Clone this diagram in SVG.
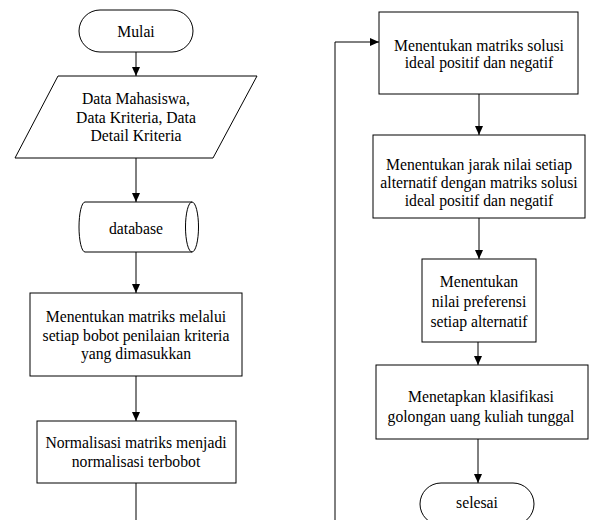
<svg xmlns="http://www.w3.org/2000/svg" width="589" height="520" viewBox="0 0 589 520">
<defs>
<marker id="arr" markerWidth="10" markerHeight="10" refX="9" refY="5" orient="auto" markerUnits="userSpaceOnUse">
<path d="M0,1 L9,5 L0,9 Z" fill="#000"/>
</marker>
<style>
.s{fill:#fff;stroke:#000;stroke-width:1}
.c{fill:none;stroke:#000;stroke-width:1}
.t{font-family:'Liberation Serif',serif;font-size:15.7px;fill:#000;text-anchor:middle}
</style>
</defs>
<rect width="589" height="520" fill="#fff"/>
<g id="connectors">
<line class="c" x1="136" y1="52" x2="136" y2="76" marker-end="url(#arr)"/>
<line class="c" x1="136" y1="158" x2="136" y2="202" marker-end="url(#arr)"/>
<line class="c" x1="136" y1="252" x2="136" y2="293" marker-end="url(#arr)"/>
<line class="c" x1="136" y1="376" x2="136" y2="421" marker-end="url(#arr)"/>
<line class="c" x1="136" y1="483" x2="136" y2="520"/>
<polyline class="c" points="335,520 335,42 379,42" marker-end="url(#arr)"/>
<line class="c" x1="479" y1="94" x2="479" y2="135" marker-end="url(#arr)"/>
<line class="c" x1="479" y1="218" x2="479" y2="259" marker-end="url(#arr)"/>
<line class="c" x1="478" y1="342" x2="478" y2="365" marker-end="url(#arr)"/>
<line class="c" x1="478" y1="439" x2="478" y2="483" marker-end="url(#arr)"/>
</g>
<g id="mulai">
<rect class="s" x="79" y="10" width="114" height="42" rx="21" ry="21"/>
<text class="t" x="136" y="37" style="font-family:'Liberation Serif',serif">Mulai</text>
</g>
<g id="input-data">
<polygon class="s" points="58,76 257,76 213,158 15,158"/>
<text class="t" x="136" y="104" style="font-family:'Liberation Serif',serif">Data Mahasiswa,</text>
<text class="t" x="136" y="123" style="font-family:'Liberation Serif',serif">Data Kriteria, Data</text>
<text class="t" x="136" y="141" style="font-family:'Liberation Serif',serif">Detail Kriteria</text>
</g>
<g id="database">
<path class="s" d="M85,202 L192,202 A6.5,25 0 0 1 192,252 L85,252 A6,25 0 0 1 85,202 Z"/>
<path class="c" d="M192,202 A6.5,25 0 0 0 192,252"/>
<text class="t" x="136" y="234" style="font-family:'Liberation Serif',serif">database</text>
</g>
<g id="matriks">
<rect class="s" x="30" y="293" width="212" height="83"/>
<text class="t" x="136" y="322" style="font-family:'Liberation Serif',serif">Menentukan matriks melalui</text>
<text class="t" x="136" y="341" style="font-family:'Liberation Serif',serif">setiap bobot penilaian kriteria</text>
<text class="t" x="136" y="359" style="font-family:'Liberation Serif',serif">yang dimasukkan</text>
</g>
<g id="normalisasi">
<rect class="s" x="37" y="421" width="199" height="62"/>
<text class="t" x="136" y="448" style="font-family:'Liberation Serif',serif">Normalisasi matriks menjadi</text>
<text class="t" x="136" y="467" style="font-family:'Liberation Serif',serif">normalisasi terbobot</text>
</g>
<g id="solusi-ideal">
<rect class="s" x="379" y="12" width="199" height="82"/>
<text class="t" x="479" y="51" style="font-family:'Liberation Serif',serif">Menentukan matriks solusi</text>
<text class="t" x="479" y="68" style="font-family:'Liberation Serif',serif">ideal positif dan negatif</text>
</g>
<g id="jarak">
<rect class="s" x="373" y="135" width="212" height="83"/>
<text class="t" x="479" y="170" style="font-family:'Liberation Serif',serif">Menentukan jarak nilai setiap</text>
<text class="t" x="479" y="188" style="font-family:'Liberation Serif',serif">alternatif dengan matriks solusi</text>
<text class="t" x="479" y="206" style="font-family:'Liberation Serif',serif">ideal positif dan negatif</text>
</g>
<g id="preferensi">
<rect class="s" x="422" y="259" width="114" height="83"/>
<text class="t" x="479" y="287" style="font-family:'Liberation Serif',serif">Menentukan</text>
<text class="t" x="479" y="307" style="font-family:'Liberation Serif',serif">nilai preferensi</text>
<text class="t" x="479" y="327" style="font-family:'Liberation Serif',serif">setiap alternatif</text>
</g>
<g id="klasifikasi">
<rect class="s" x="376" y="365" width="212" height="74"/>
<text class="t" x="481" y="402" style="font-family:'Liberation Serif',serif">Menetapkan klasifikasi</text>
<text class="t" x="481" y="422" style="font-family:'Liberation Serif',serif">golongan uang kuliah tunggal</text>
</g>
<g id="selesai">
<rect class="s" x="420" y="483" width="114" height="42" rx="21" ry="21"/>
<text class="t" x="477" y="508" style="font-family:'Liberation Serif',serif">selesai</text>
</g>
</svg>
